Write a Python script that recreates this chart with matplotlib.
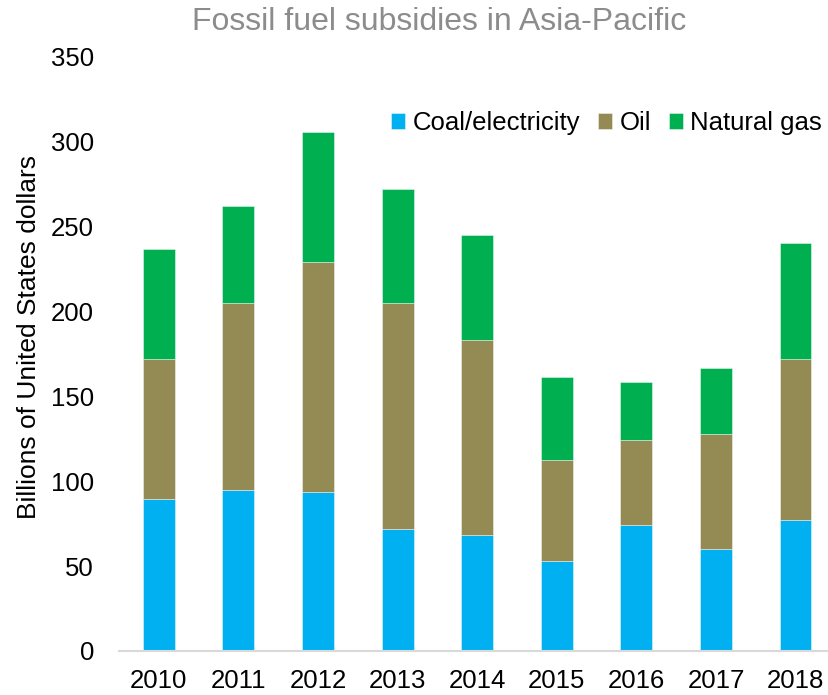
import matplotlib
matplotlib.use("Agg")
import matplotlib.pyplot as plt
import numpy as np

years = ["2010", "2011", "2012", "2013", "2014", "2015", "2016", "2017", "2018"]
coal = [89.6, 94.7, 93.5, 71.9, 68.2, 53.0, 74.2, 59.9, 77.2]
oil_top = [171.9, 204.9, 229.4, 204.9, 183.3, 112.6, 124.2, 127.9, 172.2]
total = [236.7, 262.0, 306.0, 272.1, 245.3, 161.3, 158.5, 166.8, 240.6]
oil = [o - c for o, c in zip(oil_top, coal)]
gas = [t - o for t, o in zip(total, oil_top)]

series_names = ["Coal/electricity", "Oil", "Natural gas"]
colors = ["#00B0F0", "#948A54", "#00B050"]

plt.rcParams['font.family'] = ['Liberation Sans', 'DejaVu Sans']

fig = plt.figure(figsize=(8.29, 6.95), dpi=100)
ax = fig.add_axes([119/829, 44/695, 710/829, 594/695])

x = np.arange(len(years))
w = 0.4
bottom = np.zeros(len(years))
for vals, name, col in zip([coal, oil, gas], series_names, colors):
    ax.bar(x, vals, w, bottom=bottom, color=col, label=name,
           edgecolor=(1, 1, 1, 0.5), linewidth=0.6)
    bottom += np.array(vals)

ax.set_xlim(-0.5, 8.42)
ax.set_ylim(0, 350)
ax.set_yticks(np.arange(0, 351, 50))
ax.set_xticks(x)
ax.set_xticklabels(years)
ax.tick_params(axis='both', length=0, labelsize=18.5, colors='black')
ax.tick_params(axis='y', pad=18)
ax.tick_params(axis='x', pad=13)

for s in ['top', 'right', 'left']:
    ax.spines[s].set_visible(False)
ax.spines['bottom'].set_color('#D9D9D9')
ax.spines['bottom'].set_linewidth(1.5)

ax.set_ylabel("Billions of United States dollars", fontsize=19)
ax.yaxis.set_label_coords(-0.11, 0.529)

fig.text(439/829, 1 - 22/695, "Fossil fuel subsidies in Asia-Pacific",
         ha='center', va='center', fontsize=23, color='#8C8C8C')

leg = ax.legend(loc='center right', bbox_to_anchor=(0.990, 0.889), ncol=3,
                frameon=False, fontsize=18.5, handlelength=0.55,
                handleheight=0.55, handletextpad=0.28, columnspacing=0.7,
                borderaxespad=0, borderpad=0)

fig.savefig("out.png", dpi=100)
